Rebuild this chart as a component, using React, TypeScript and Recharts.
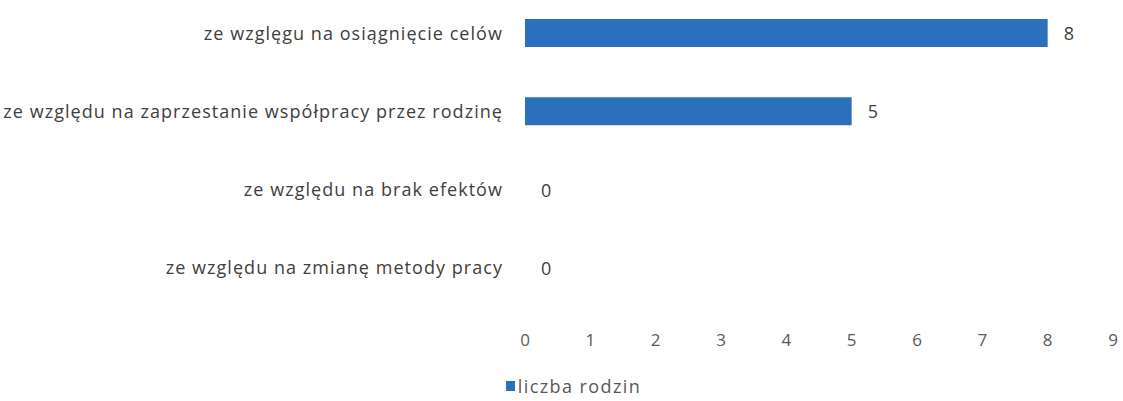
import { BarChart, Bar, XAxis, YAxis, Legend, LabelList, Rectangle } from 'recharts'

const categories = [
  'ze wzglęgu na osiągnięcie celów',
  'ze względu na zaprzestanie współpracy przez rodzinę',
  'ze względu na brak efektów',
  'ze względu na zmianę metody pracy',
]
const familyCounts = [8, 5, 0, 0]
const xTicks = [0, 1, 2, 3, 4, 5, 6, 7, 8, 9]
const seriesName = 'liczba rodzin'

const BLUE = '#2b70bd'
const FONT = '"Open Sans", sans-serif'

const data = categories.map((name, i) => ({ name, value: familyCounts[i] }))

function LegendContent() {
  return (
    <div
      style={{
        height: 28,
        display: 'flex',
        alignItems: 'center',
        justifyContent: 'center',
        fontFamily: FONT,
        fontSize: 18,
        letterSpacing: 1.4,
        color: '#595959',
        paddingLeft: 34,
      }}
    >
      <span style={{ width: 9, height: 10, background: BLUE, marginRight: 3, display: 'inline-block' }} />
      {seriesName}
    </div>
  )
}

// zero values get a tiny min size so the label still renders, but no rect is drawn
function BarShape(props: any) {
  if (!props.value) return <g />
  return <Rectangle {...props} />
}

function ValueLabel(props: any) {
  const { x, y, width, height, value } = props
  const w = value ? Number(width) : 0
  return (
    <text
      x={Number(x) + w + 16}
      y={Number(y) + Number(height) / 2}
      dominantBaseline="central"
      fontSize={18}
      fill="#404040"
      fontFamily={FONT}
    >
      {value}
    </text>
  )
}

export default function App() {
  return (
    <div style={{ position: 'absolute', left: 0, top: 0, background: '#fff' }}>
      <BarChart
        width={1123}
        height={401}
        data={data}
        layout="vertical"
        margin={{ top: -6, right: 10, bottom: 1, left: 0 }}
      >
        <XAxis
          type="number"
          domain={[0, 9]}
          ticks={xTicks}
          axisLine={false}
          tickLine={false}
          tickSize={0}
          tickMargin={27}
          height={65}
          tick={{ fontSize: 17, fill: '#595959', fontFamily: FONT }}
        />
        <YAxis
          type="category"
          dataKey="name"
          width={525}
          axisLine={false}
          tickLine={false}
          tickSize={0}
          tickMargin={22}
          tick={{ fontSize: 18, fill: '#404040', fontFamily: FONT, letterSpacing: 1.05 }}
        />
        <Legend verticalAlign="bottom" content={<LegendContent />} />
        <Bar
          dataKey="value"
          name={seriesName}
          fill={BLUE}
          barSize={28}
          minPointSize={0.5}
          shape={BarShape}
          isAnimationActive={false}
        >
          <LabelList dataKey="value" content={ValueLabel} />
        </Bar>
      </BarChart>
    </div>
  )
}
